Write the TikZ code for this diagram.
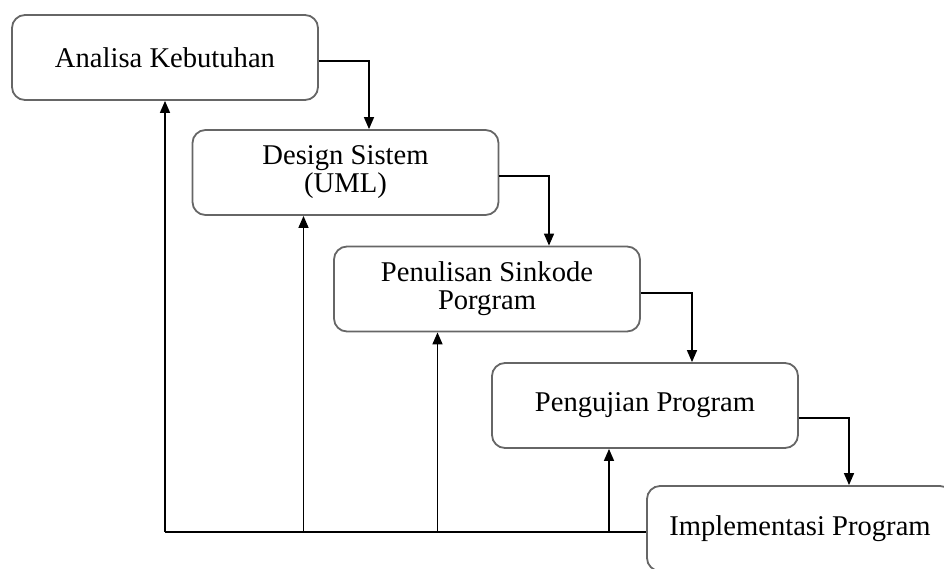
\documentclass[tikz,border=0pt]{standalone}
\usepackage{fontspec}
\setmainfont{Liberation Serif}
\usetikzlibrary{arrows.meta}

\tikzset{
  tahap/.style={draw=black!60, line width=1.8pt, rounded corners=13pt,
    minimum width=306pt, minimum height=85pt, inner sep=0pt, align=center,
    font=\fontsize{28.6}{28}\selectfont},
  panah/.style={line width=1.5pt, -{Triangle[width=10pt,length=12pt]}},
  garis/.style={line width=1.5pt}
}

\begin{document}
\begin{tikzpicture}[x=1pt,y=-1pt]
\useasboundingbox (0,0) rectangle (944,568);

% tahapan
\node[tahap] (analisa) at (165,57.5) {Analisa Kebutuhan};
\node[tahap] (design) at (345.5,172.5) {Design Sistem\\(UML)};
\node[tahap] (penulisan) at (487,289) {Penulisan Sinkode\\Porgram};
\node[tahap] (pengujian) at (645,405.5) {Pengujian Program};
\node[tahap] (implementasi) at (800,528.5) {Implementasi Program};

% titik belok alur maju
\coordinate (k1) at (369,61);
\coordinate (k2) at (549,176);
\coordinate (k3) at (692,293);
\coordinate (k4) at (849,418);

\draw[panah] (analisa.east |- k1) -| (k1 |- design.north);
\draw[panah] (design.east |- k2) -| (k2 |- penulisan.north);
\draw[panah] (penulisan.east |- k3) -| (k3 |- pengujian.north);
\draw[panah] (pengujian.east |- k4) -| (k4 |- implementasi.north);

% alur balik
\coordinate (b1) at (165,532);
\coordinate (b2) at (303.5,532);
\coordinate (b3) at (437.5,532);
\coordinate (b4) at (609,532);

\draw[garis] (implementasi.west |- b1) -- (b1);
\draw[panah] (b1) -- (b1 |- analisa.south);
\draw[panah] (b2) -- (b2 |- design.south);
\draw[panah] (b3) -- (b3 |- penulisan.south);
\draw[panah] (b4) -- (b4 |- pengujian.south);

\end{tikzpicture}
\end{document}
